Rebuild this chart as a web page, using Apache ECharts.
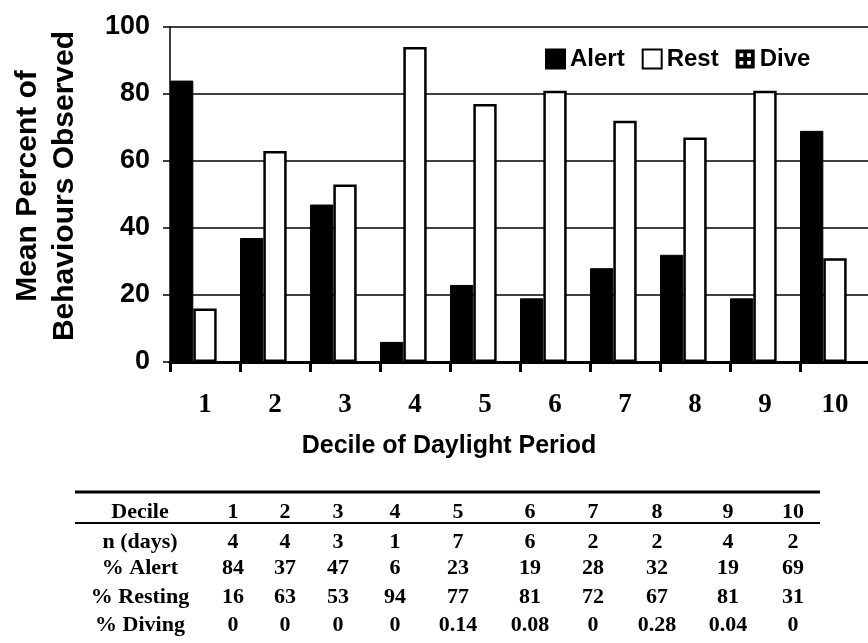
<!DOCTYPE html>
<html>
<head>
<meta charset="utf-8">
<script src="https://cdn.jsdelivr.net/npm/echarts@6/dist/echarts.min.js"></script>
<style>
  html, body { margin: 0; padding: 0; background: #fff; }
  #chart { width: 868px; height: 643px; }
</style>
</head>
<body>
<div id="chart"></div>
<script>
const deciles = ['1', '2', '3', '4', '5', '6', '7', '8', '9', '10'];
const nDays = [4, 4, 3, 1, 7, 6, 2, 2, 4, 2];
const alertPct = [84, 37, 47, 6, 23, 19, 28, 32, 19, 69];
const restPct = [16, 63, 53, 94, 77, 81, 72, 67, 81, 31];
const divePct = [0, 0, 0, 0, 0.14, 0.08, 0, 0.28, 0.04, 0];
const yTicks = [0, 20, 40, 60, 80, 100];
const tableRowLabels = ['n (days)', '% Alert', '% Resting', '% Diving'];

// table layout (pixels)
const colX = [233, 285, 338, 395, 458, 530, 593, 657, 728, 793];
const labelX = 140;
const headerY = 512;
const rowY = [542, 568, 597, 625];

const chart = echarts.init(document.getElementById('chart'));

const serifBold = { fontFamily: 'Liberation Serif', fontWeight: 'bold', fontSize: 22, fill: '#000' };
const graphics = [];

// y axis title
graphics.push({
  type: 'text', x: 46, y: 186, rotation: Math.PI / 2,
  style: {
    text: 'Mean Percent of\nBehaviours Observed',
    font: 'bold 30px "Liberation Sans"', fill: '#000',
    align: 'center', verticalAlign: 'middle', lineHeight: 37
  }
});
// x axis title
graphics.push({
  type: 'text', x: 449, y: 446,
  style: {
    text: 'Decile of Daylight Period',
    font: 'bold 25px "Liberation Sans"', fill: '#000',
    align: 'center', verticalAlign: 'middle'
  }
});

// table rules
graphics.push({ type: 'line', shape: { x1: 75, y1: 492, x2: 820, y2: 492 }, style: { stroke: '#000', lineWidth: 3 } });
graphics.push({ type: 'line', shape: { x1: 75, y1: 523, x2: 820, y2: 523 }, style: { stroke: '#000', lineWidth: 2 } });

function cell(txt, x, y) {
  graphics.push({
    type: 'text', x: x, y: y,
    style: Object.assign({ text: txt, align: 'center', verticalAlign: 'middle' }, serifBold)
  });
}

cell('Decile', labelX, headerY);
deciles.forEach((d, i) => cell(d, colX[i], headerY));
const tableRows = [nDays, alertPct, restPct, divePct];
tableRows.forEach((row, r) => {
  cell(tableRowLabels[r], labelX, rowY[r]);
  row.forEach((v, i) => cell(String(v), colX[i], rowY[r]));
});

const diveIcon = 'path://M0 0H10V10H0Z M2 2V4H4V2Z M6 2V4H8V2Z M2 6V8H4V6Z M6 6V8H8V6Z';

chart.setOption({
  animation: false,
  grid: { left: 170, top: 27, width: 700, height: 335, outerBoundsMode: 'none', containLabel: false },
  legend: {
    left: 545, top: 47, padding: 0,
    itemWidth: 19, itemHeight: 19, itemGap: 17,
    textStyle: { fontFamily: 'Liberation Sans', fontWeight: 'bold', fontSize: 24, color: '#000' },
    data: [
      { name: 'Alert', icon: 'rect' },
      { name: 'Rest', icon: 'rect' },
      { name: 'Dive', icon: diveIcon }
    ]
  },
  xAxis: {
    type: 'category',
    data: deciles,
    boundaryGap: true,
    axisLine: { lineStyle: { color: '#000', width: 3 } },
    axisTick: { show: true, alignWithLabel: false, length: 10, lineStyle: { color: '#000', width: 3 } },
    axisLabel: { margin: 30, color: '#000', fontFamily: 'Liberation Serif', fontWeight: 'bold', fontSize: 27 },
    splitLine: { show: false }
  },
  yAxis: {
    type: 'value',
    min: yTicks[0], max: yTicks[yTicks.length - 1], interval: yTicks[1] - yTicks[0],
    axisLine: { show: true, lineStyle: { color: '#000', width: 1.5 } },
    axisTick: { show: true, inside: false, length: 7, lineStyle: { color: '#000', width: 1.5 } },
    axisLabel: { margin: 20, color: '#000', fontFamily: 'Liberation Sans', fontWeight: 'bold', fontSize: 27 },
    splitLine: { show: true, lineStyle: { color: '#000', width: 1.5 } }
  },
  series: [
    {
      name: 'Alert', type: 'bar', data: alertPct,
      barGap: '0%', barCategoryGap: '0%',
      itemStyle: { color: '#000', borderColor: '#000', borderWidth: 1 }
    },
    {
      name: 'Rest', type: 'bar', data: restPct,
      barGap: '0%', barCategoryGap: '0%',
      itemStyle: { color: '#fff', borderColor: '#000', borderWidth: 2.5 }
    },
    {
      name: 'Dive', type: 'bar', data: divePct,
      barGap: '0%', barCategoryGap: '0%',
      itemStyle: { color: '#000', borderColor: '#000', borderWidth: 0 }
    }
  ],
  graphic: graphics
});
</script>
</body>
</html>
